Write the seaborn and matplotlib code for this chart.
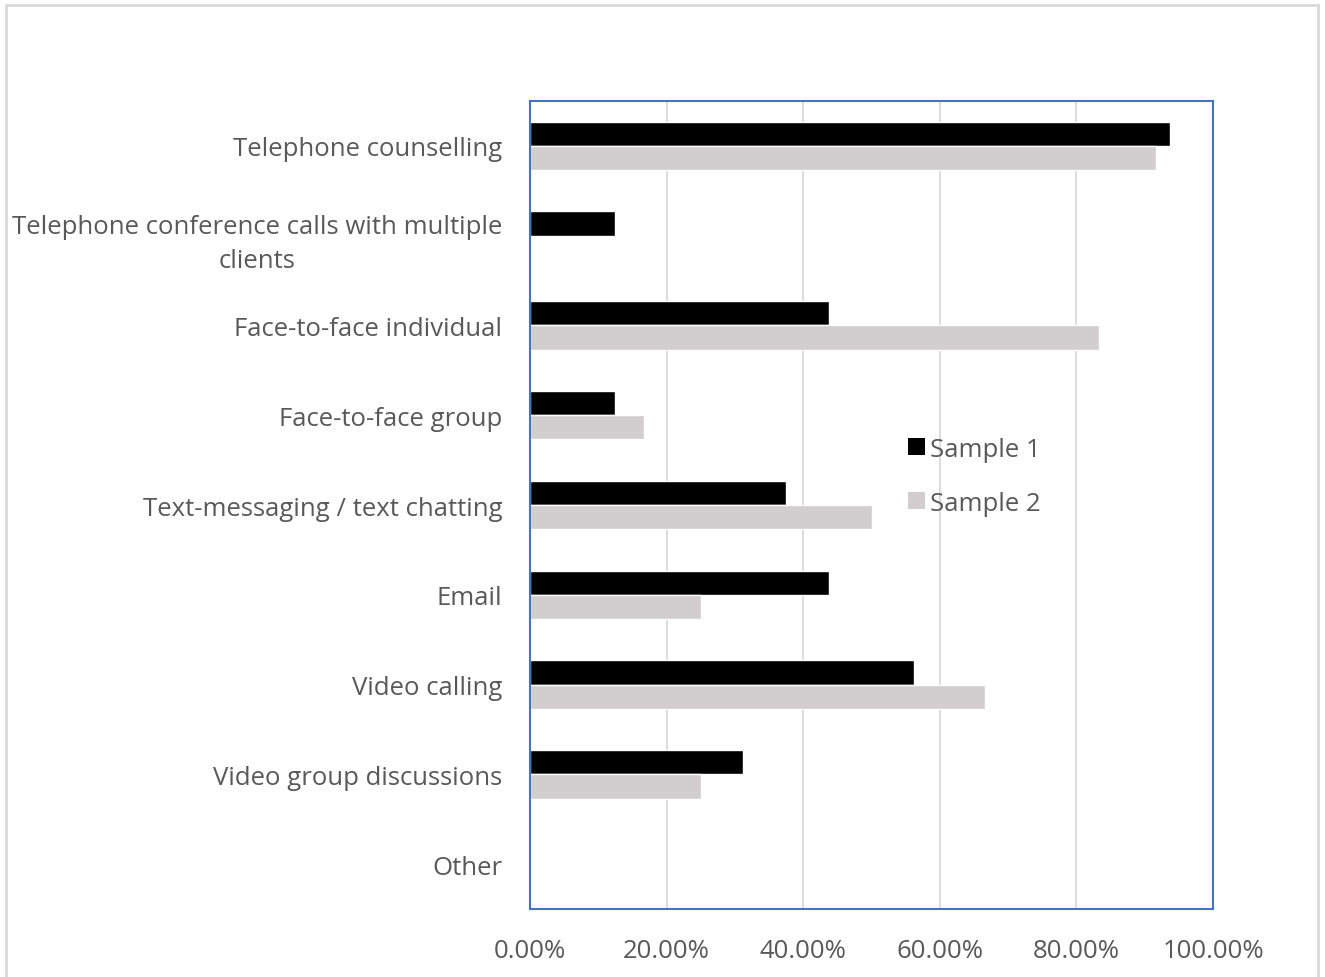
import pandas as pd
import matplotlib
matplotlib.use("Agg")
import matplotlib.pyplot as plt
from matplotlib.patches import Patch, Rectangle
from matplotlib.ticker import PercentFormatter
import seaborn as sns

categories = [
    "Telephone counselling",
    "Telephone conference calls with multiple\nclients",
    "Face-to-face individual",
    "Face-to-face group",
    "Text-messaging / text chatting",
    "Email",
    "Video calling",
    "Video group discussions",
    "Other",
]
sample1 = [93.75, 12.5, 43.75, 12.5, 37.5, 43.75, 56.25, 31.25, 0.0]
sample2 = [91.67, 0.0, 83.33, 16.67, 50.0, 25.0, 66.67, 25.0, 0.0]
series_names = ["Sample 1", "Sample 2"]
ticks = [0, 20, 40, 60, 80, 100]

TEXT = "#595959"
COLORS = ["#000000", "#D0CECE"]

df = pd.DataFrame({
    "category": categories * 2,
    "value": sample1 + sample2,
    "series": [series_names[0]] * len(categories) + [series_names[1]] * len(categories),
})

sns.set_style("white")
plt.rcParams["font.family"] = ["Open Sans", "DejaVu Sans"]
FS = 18.5

fig = plt.figure(figsize=(13.25, 9.78), dpi=100)
ax = fig.add_axes([0.4, 0.0695, 0.5155, 0.8262])

sns.barplot(data=df, x="value", y="category", hue="series", order=categories,
            hue_order=series_names, palette=COLORS, width=0.54, orient="h",
            saturation=1, ax=ax, legend=False)

ax.set_xlim(0, 100)
ax.set_xticks(ticks)
ax.xaxis.set_major_formatter(PercentFormatter(decimals=2))
ax.set_xlabel("")
ax.set_ylabel("")
ax.grid(axis="x", color="#D9D9D9", linewidth=1.3)
ax.set_axisbelow(True)
for sp in ax.spines.values():
    sp.set_color("#4472C4")
    sp.set_linewidth(1.5)
    sp.set_visible(True)

ax.tick_params(axis="y", length=0, pad=20, labelsize=FS, labelcolor=TEXT)
ax.tick_params(axis="x", length=0, pad=21, labelsize=FS, labelcolor=TEXT)
for lbl in ax.get_yticklabels():
    lbl.set_multialignment("center")
    lbl.set_linespacing(1.5)

handles = [Patch(facecolor=c, edgecolor="none") for c in COLORS]
fig.legend(handles, series_names, loc="upper left", bbox_to_anchor=(0.668, 0.576),
           frameon=False, fontsize=FS, labelcolor=TEXT, handlelength=0.65,
           handleheight=0.65, handletextpad=0.2, labelspacing=1.12)

fig.patches.append(Rectangle((6 / 1325, -0.01), 1312 / 1325, 1 - 6 / 978 + 0.01,
                             transform=fig.transFigure, fill=False,
                             edgecolor="#D9D9D9", linewidth=2))

fig.savefig("out.png", dpi=100)
plt.close(fig)
